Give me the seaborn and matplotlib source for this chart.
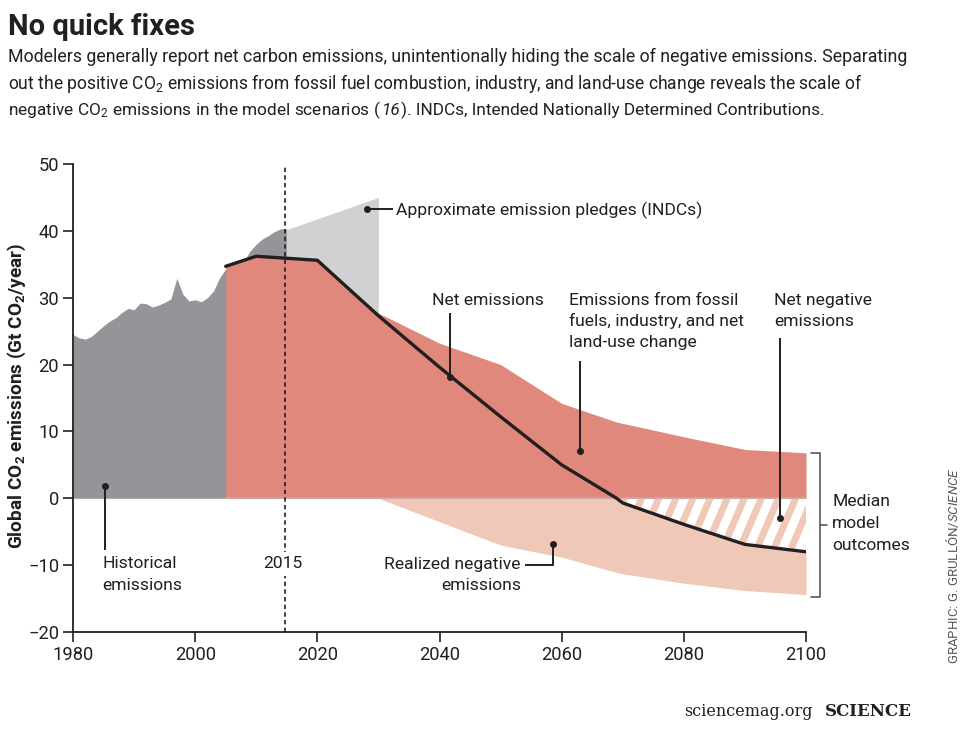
import numpy as np
import seaborn as sns
import matplotlib.pyplot as plt
from matplotlib.patches import PathPatch

sns.set_theme(style='ticks')
base_font = 'Roboto'
plt.rcParams['font.family'] = [base_font, 'DejaVu Sans']
plt.rcParams['mathtext.fontset'] = 'custom'
plt.rcParams['mathtext.rm'] = base_font
plt.rcParams['mathtext.it'] = base_font + ':italic'
plt.rcParams['mathtext.bf'] = base_font + ':bold'
plt.rcParams['mathtext.default'] = 'regular'

# values
hist_years = [1980, 1981, 1982, 1983, 1984, 1985, 1986, 1987, 1988, 1989, 1990, 1991, 1992,
              1993, 1994, 1995, 1996, 1997, 1998, 1999, 2000, 2001, 2002, 2003, 2004, 2005,
              2008, 2009, 2010, 2011, 2012, 2013, 2014, 2015]
hist_values = [24.5, 24.0, 23.8, 24.2, 25.0, 25.8, 26.5, 27.0, 27.8, 28.4, 28.2, 29.2, 29.1,
               28.6, 28.9, 29.3, 29.8, 32.9, 30.5, 29.5, 29.7, 29.4, 30.0, 31.0, 33.0, 34.3,
               35.5, 37.0, 38.0, 38.8, 39.3, 39.9, 40.3, 40.3]
pledge_years = [2015, 2020, 2025, 2030]
pledge_top = [40.2, 41.8, 43.4, 45.0]
pledge_bottom = [35.9, 35.6, 31.5, 27.3]

years = [2005, 2010, 2020, 2030, 2040, 2050, 2060, 2069, 2070, 2080, 2090, 2100]
gross = [34.7, 36.2, 35.6, 27.7, 23.2, 20.0, 14.2, 11.4, 11.2, 9.2, 7.3, 6.8]
net = [34.7, 36.2, 35.6, 27.3, 19.6, 12.2, 5.0, 0.0, -0.7, -3.9, -6.9, -8.0]
negative = [0, 0, 0, 0, -3.5, -7.0, -8.8, -11.1, -11.3, -12.7, -13.8, -14.4]

x_ticks = [1980, 2000, 2020, 2040, 2060, 2080, 2100]
y_ticks = [-20, -10, 0, 10, 20, 30, 40, 50]

dark_grey = '#939598'
light_grey = '#cfd1d3'
red = '#e0887b'
pink = '#f0c8b8'
ink = '#231f20'

years = np.array(years)
net = np.array(net)
negative = np.array(negative)

W, H = 963, 734
fig = plt.figure(figsize=(W / 100, H / 100), dpi=100)
ax = fig.add_axes([73 / W, 1 - 632 / H, (806 - 73) / W, (632 - 164) / H])
ax.set_facecolor('white')


def ftext(x, y, s, **kw):
    kw.setdefault('fontsize', 12.6)
    kw.setdefault('color', ink)
    kw.setdefault('va', 'center')
    return fig.text(x / W, 1 - y / H, s, **kw)


ax.fill_between(hist_years, 0, hist_values, color=dark_grey, lw=0)
ax.fill_between(pledge_years, pledge_bottom, pledge_top, color=light_grey, lw=0)
ax.fill_between(years, 0, gross, color=red, lw=0)
ax.fill_between(years, np.minimum(net, 0), negative, color=pink, lw=0)

# striped part between zero and the net line
hatch = ax.fill_between(years, 0, net, where=net <= 0, color='white', lw=0)
clip = PathPatch(hatch.get_paths()[0], transform=ax.transData, fc='none', ec='none')
ax.add_patch(clip)
for x0 in np.arange(2067.5, 2112, 2.8):
    stripe, = ax.plot([x0, x0 - 3.3], [0, -7], color=pink, lw=5.0, solid_capstyle='projecting')
    stripe.set_clip_path(clip)

ax.plot([2005, 2100], [0, 0], color='#c4a9a8', lw=1.2)
sns.lineplot(x=years, y=net, ax=ax, color=ink, lw=2.4, errorbar=None, estimator=None)

ax.plot([2014.7, 2014.7], [-20, 49.7], color=ink, lw=1.2, dashes=(2.6, 2.0))

# leader lines
leaders = [
    ([2028.1, 2032.4], [43.2, 43.2], (2028.1, 43.2)),
    ([2041.7, 2041.7], [27.7, 18.2], (2041.7, 18.2)),
    ([2063.0, 2063.0], [20.6, 7.0], (2063.0, 7.0)),
    ([2095.7, 2095.7], [24.0, -3.0], (2095.7, -3.0)),
    ([1985.2, 1985.2], [1.8, -7.8], (1985.2, 1.8)),
    ([2054.0, 2058.6, 2058.6], [-10.0, -10.0, -6.8], (2058.6, -6.8)),
]
for lx, ly, dot in leaders:
    ax.plot(lx, ly, color=ink, lw=1.4, solid_capstyle='butt', zorder=6)
    ax.plot([dot[0]], [dot[1]], 'o', color=ink, ms=4.0, zorder=6)

# bracket
ax.plot([2100.8, 2102.3, 2102.3, 2100.8], [6.7, 6.7, -14.7, -14.7], color='#58595b', lw=1.2, clip_on=False)
ax.plot([2102.3, 2103.5], [-4, -4], color='#58595b', lw=1.2, clip_on=False)

ax.set_xlim(1980, 2100)
ax.set_ylim(-20, 50)
ax.set_xticks(x_ticks)
ax.set_yticks(y_ticks)
ax.set_yticklabels([str(v).replace('-', '\u2212') for v in y_ticks])
ax.tick_params(labelsize=13.2, length=7, width=1.2, color=ink, labelcolor=ink, pad=3)
sns.despine(ax=ax)
ax.spines['left'].set_color(ink)
ax.spines['bottom'].set_color(ink)
ax.spines['left'].set_linewidth(1.3)
ax.spines['bottom'].set_linewidth(1.3)

# title block
ftext(8, 35, 'No quick fixes', fontsize=21, fontweight='bold', va='baseline')
ftext(8, 62, 'Modelers generally report net carbon emissions, unintentionally hiding the scale of negative emissions. Separating', fontsize=12.75, va='baseline')
ftext(8, 89, 'out the positive CO$_2$ emissions from fossil fuel combustion, industry, and land-use change reveals the scale of', fontsize=12.65, va='baseline')

# third line in pieces, the reference number is italic
renderer = fig.canvas.get_renderer()
x_pos = 8
for s, style in [('negative CO$_2$ emissions in the model scenarios (', 'normal'), ('16', 'italic'),
                 ('). INDCs, Intended Nationally Determined Contributions.', 'normal')]:
    t = ftext(x_pos, 115, s, fontsize=12.4, va='baseline', style=style)
    x_pos = t.get_window_extent(renderer).x1 + 1

ftext(17, 396, 'Global CO$_2$ emissions (Gt CO$_2$/year)', fontsize=13.7, fontweight='bold', rotation=90, ha='center')

# annotations
ftext(396, 210, 'Approximate emission pledges (INDCs)')
ftext(488, 300, 'Net emissions', ha='center')
for y, s in zip([300, 321, 342], ['Emissions from fossil', 'fuels, industry, and net', 'land-use change']):
    ftext(569, y, s)
for y, s in zip([300, 321], ['Net negative', 'emissions']):
    ftext(774, y, s)
for y, s in zip([564, 586], ['Historical', 'emissions']):
    ftext(102, y, s)
ftext(283, 564, '2015', ha='center', bbox=dict(fc='white', ec='none', pad=3))
ftext(521, 564, 'Realized negative', ha='right')
ftext(521, 586, 'emissions', ha='right')
for y, s in zip([502, 524, 545], ['Median', 'model', 'outcomes']):
    ftext(832, y, s)

ftext(952, 566, 'GRAPHIC: G. GRULL\u00d3N/$\\mathit{SCIENCE}$', fontsize=9.5, rotation=90, ha='center', color='#58595b')
ftext(684, 712, 'sciencemag.org', fontsize=11.5, family='DejaVu Serif')
ftext(825, 712, 'SCIENCE', fontsize=12, family='DejaVu Serif', fontweight='bold')

fig.savefig('out.png', dpi=100)
